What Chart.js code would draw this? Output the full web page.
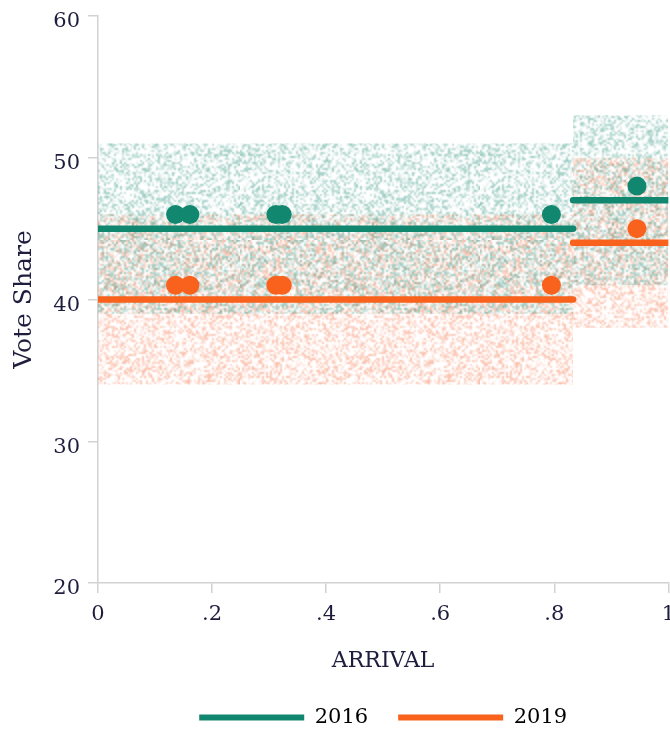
<!DOCTYPE html>
<html>
<head>
<meta charset="utf-8">
<script src="https://cdn.jsdelivr.net/npm/chart.js@4.4.1/dist/chart.umd.min.js"></script>
<style>
  html, body { margin: 0; padding: 0; background: #fff; overflow: hidden; }
  #wrap { width: 684px; height: 738px; }
</style>
</head>
<body>
<div id="wrap"><canvas id="c"></canvas></div>
<script>
const ink = '#1f1d3d';
const teal = '#12876f';
const orange = '#f8621c';
const serif = "'DejaVu Serif', 'Liberation Serif', serif";

// two arrival segments, mean vote share and interval per segment
const years = ['2016', '2019'];
const segStart = [0, 0.833];
const segEnd = [0.833, 1];
const mean2016 = [45, 47];
const mean2019 = [40, 44];
const low2016 = [39, 41];
const high2016 = [51, 53];
const low2019 = [34, 38];
const high2019 = [46, 50];

// individual observations
const arrival = [0.136, 0.161, 0.312, 0.323, 0.795, 0.945];
const share2016 = [46, 46, 46, 46, 46, 48];
const share2019 = [41, 41, 41, 41, 41, 45];

const xTicks = [0, 0.2, 0.4, 0.6, 0.8, 1];
const xTickLabels = ['0', '.2', '.4', '.6', '.8', '1'];

function hash(i) {
    let t = Math.imul(i ^ 0x9e3779b9, 2654435761) >>> 0;
    t ^= t >>> 15;
    t = Math.imul(t, 2246822519) >>> 0;
    t ^= t >>> 13;
    t = Math.imul(t, 3266489917) >>> 0;
    t ^= t >>> 16;
    return t / 4294967296;
}

// speckled fill for the interval bands
function grain(rgb, seed) {
    const n = 120;
    const small = document.createElement('canvas');
    small.width = small.height = n;
    const sctx = small.getContext('2d');
    const img = sctx.createImageData(n, n);
    for (let i = 0; i < n * n; i++) {
        const v = hash(i * 7 + seed);
        const a = v < 0.5 ? 0.06 + v * 0.8 : v * 0.1;
        img.data[i * 4] = rgb[0];
        img.data[i * 4 + 1] = rgb[1];
        img.data[i * 4 + 2] = rgb[2];
        img.data[i * 4 + 3] = Math.round(a * 255);
    }
    sctx.putImageData(img, 0, 0);
    const big = document.createElement('canvas');
    big.width = big.height = n * 2;
    const bctx = big.getContext('2d');
    bctx.imageSmoothingEnabled = true;
    bctx.drawImage(small, 0, 0, n * 2, n * 2);
    return bctx.createPattern(big, 'repeat');
}

const tealGrain = grain([28, 138, 116], 11);
const orangeGrain = grain([244, 110, 64], 5003);

const seg = (vals, k) => [{ x: segStart[k], y: vals[k] }, { x: segEnd[k], y: vals[k] }];

const dots = (vals, color) => ({
    data: arrival.map((x, i) => ({ x, y: vals[i] })),
    showLine: false,
    pointRadius: 9.5,
    pointHoverRadius: 9.5,
    pointBorderWidth: 0,
    backgroundColor: color,
    borderColor: color
});

const meanLine = (vals, k, color) => ({
    data: seg(vals, k),
    borderColor: color,
    backgroundColor: color,
    borderWidth: 6.5,
    borderCapStyle: 'round',
    pointRadius: 0,
    fill: false
});

const band = (hi, lo, k, pattern) => [
    { data: seg(hi, k), borderWidth: 0, borderColor: 'transparent', pointRadius: 0, backgroundColor: pattern, fill: '+1' },
    { data: seg(lo, k), borderWidth: 0, borderColor: 'transparent', pointRadius: 0, fill: false }
];

const axisGrey = '#d2d2d2';

new Chart(document.getElementById('c'), {
    type: 'line',
    data: {
        datasets: [
            dots(share2016, teal),
            dots(share2019, orange),
            meanLine(mean2016, 0, teal),
            meanLine(mean2016, 1, teal),
            meanLine(mean2019, 0, orange),
            meanLine(mean2019, 1, orange),
            ...band(high2016, low2016, 0, tealGrain),
            ...band(high2016, low2016, 1, tealGrain),
            ...band(high2019, low2019, 0, orangeGrain),
            ...band(high2019, low2019, 1, orangeGrain)
        ]
    },
    options: {
        responsive: true,
        maintainAspectRatio: false,
        animation: false,
        layout: { padding: { top: 16, right: 2, left: 0, bottom: 0 } },
        scales: {
            x: {
                type: 'linear',
                min: 0,
                max: 1,
                afterBuildTicks: s => { s.ticks = xTicks.map(v => ({ value: v })); },
                afterFit: s => { s.height = 94; },
                grid: { display: true, drawOnChartArea: false, drawTicks: true, tickLength: 10, color: axisGrey, lineWidth: 1.5 },
                border: { display: true, color: axisGrey, width: 1.5 },
                ticks: {
                    padding: 9,
                    color: ink,
                    maxRotation: 0,
                    autoSkip: false,
                    font: { family: serif, size: 21 },
                    callback: (v, i) => xTickLabels[i]
                },
                title: {
                    display: true,
                    text: 'ARRIVAL',
                    color: ink,
                    font: { family: serif, size: 22 },
                    padding: { top: 10, bottom: 3 }
                }
            },
            y: {
                min: 20,
                max: 60,
                afterFit: s => { s.width = 98; s.paddingTop = 0; s.paddingBottom = 0; },
                grid: { display: true, drawOnChartArea: false, drawTicks: true, tickLength: 10, color: axisGrey, lineWidth: 1.5 },
                border: { display: true, color: axisGrey, width: 1.5 },
                ticks: {
                    stepSize: 10,
                    padding: 8,
                    labelOffset: 6,
                    color: ink,
                    font: { family: serif, size: 21 }
                },
                title: {
                    display: true,
                    text: 'Vote Share',
                    color: ink,
                    font: { family: serif, size: 25 },
                    padding: { top: 9, bottom: 0 }
                }
            }
        },
        plugins: {
            legend: {
                position: 'bottom',
                fullSize: false,
                labels: {
                    boxWidth: 105,
                    boxHeight: 6,
                    padding: 30,
                    color: ink,
                    font: { family: serif, size: 21 },
                    generateLabels: () => years.map((t, i) => ({
                        text: t,
                        fillStyle: [teal, orange][i],
                        strokeStyle: [teal, orange][i],
                        lineWidth: 0,
                        hidden: false,
                        datasetIndex: i
                    }))
                }
            },
            tooltip: { enabled: false }
        }
    }
});
</script>
</body>
</html>
